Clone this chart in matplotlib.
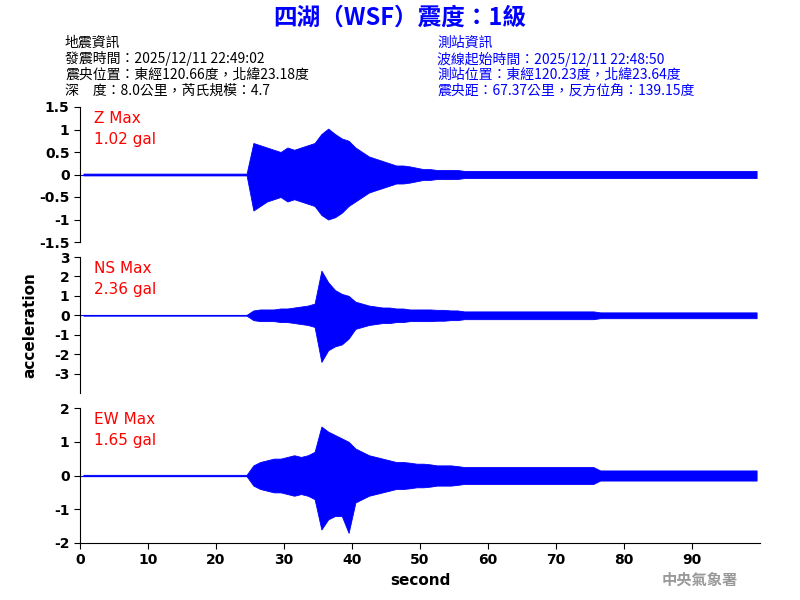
import matplotlib
matplotlib.use("Agg")
import matplotlib.pyplot as plt
import numpy as np

plt.rcParams['font.family'] = ['Noto Sans CJK TC', 'DejaVu Sans']

seconds = list(range(100))
# per-second upper / lower envelope
z_up = [0.02]*25 + [0.7,0.65,0.6,0.55,0.5,0.6,0.55,0.6,0.65,0.7,0.9,1.02,0.9,0.8,0.75,0.6,0.5,0.4,0.35,0.3,0.25,0.2,0.2,0.18,0.15,0.12,0.12,0.1,0.1,0.1,0.1] + [0.08]*44
z_lo = [-0.02]*25 + [-0.8,-0.7,-0.6,-0.55,-0.5,-0.6,-0.55,-0.6,-0.65,-0.7,-0.9,-1.0,-0.95,-0.85,-0.7,-0.6,-0.5,-0.4,-0.35,-0.3,-0.25,-0.2,-0.2,-0.18,-0.15,-0.12,-0.12,-0.1,-0.1,-0.1,-0.1] + [-0.08]*44
ns_up = [0.02]*25 + [0.25,0.3,0.3,0.3,0.35,0.35,0.4,0.45,0.5,0.6,2.3,1.7,1.3,1.1,1.0,0.7,0.6,0.5,0.45,0.4,0.4,0.35,0.35,0.3,0.3,0.3,0.3,0.28,0.28,0.25,0.25] + [0.2]*20 + [0.15]*24
ns_lo = [-0.02]*25 + [-0.25,-0.3,-0.3,-0.3,-0.35,-0.35,-0.4,-0.45,-0.5,-0.6,-2.4,-1.8,-1.6,-1.5,-1.2,-0.7,-0.6,-0.5,-0.45,-0.4,-0.4,-0.35,-0.35,-0.3,-0.3,-0.3,-0.3,-0.28,-0.28,-0.25,-0.25] + [-0.2]*20 + [-0.15]*24
ew_up = [0.02]*25 + [0.3,0.4,0.45,0.5,0.5,0.55,0.6,0.55,0.6,0.7,1.45,1.3,1.2,1.1,1.0,0.8,0.7,0.6,0.55,0.5,0.45,0.4,0.4,0.38,0.35,0.35,0.33,0.3,0.3,0.3,0.28] + [0.25]*20 + [0.15]*24
ew_lo = [-0.02]*25 + [-0.3,-0.4,-0.45,-0.5,-0.5,-0.55,-0.6,-0.55,-0.6,-0.7,-1.6,-1.3,-1.2,-1.2,-1.7,-0.8,-0.7,-0.6,-0.55,-0.5,-0.45,-0.4,-0.4,-0.38,-0.35,-0.35,-0.33,-0.3,-0.3,-0.3,-0.28] + [-0.25]*20 + [-0.15]*24

labels = ["Z Max\n1.02 gal", "NS Max\n2.36 gal", "EW Max\n1.65 gal"]
ylims = [(-1.5, 1.5), (-4, 3), (-2, 2)]
yticks = [[-1.5,-1,-0.5,0,0.5,1,1.5],[-3,-2,-1,0,1,2,3],[-2,-1,0,1,2]]
ytl = [["-1.5","-1","-0.5","0","0.5","1","1.5"],["-3","-2","-1","0","1","2","3"],["-2","-1","0","1","2"]]
envs = [(z_up, z_lo), (ns_up, ns_lo), (ew_up, ew_lo)]

fig = plt.figure(figsize=(8, 6), dpi=100)
W, H = 800, 600
boxes = [(107, 242), (257, 393), (408, 543)]
x = np.array(seconds) + 0.5
for i, ((t, b), (up, lo)) in enumerate(zip(boxes, envs)):
    ax = fig.add_axes([80/W, 1-b/H, 680/W, (b-t)/H])
    ax.fill_between(x, lo, up, color='#0000ff', lw=0.6)
    ax.plot([0, 25], [0, 0], color='#0000ff', lw=0.8)
    ax.set_xlim(0, 100)
    ax.set_ylim(*ylims[i])
    ax.set_yticks(yticks[i]); ax.set_yticklabels(ytl[i])
    for s in ['top', 'right']:
        ax.spines[s].set_visible(False)
    ax.tick_params(labelsize=10, length=4)
    for lab in ax.get_yticklabels():
        lab.set_fontweight('bold'); lab.set_family(['DejaVu Sans'])
    ax.text(0.02, 0.97, labels[i], transform=ax.transAxes, color='red', fontsize=11,
            va='top', family=['DejaVu Sans'], linespacing=1.5)
    if i < 2:
        ax.spines['bottom'].set_visible(False)
        ax.set_xticks([])
    else:
        ax.set_xticks(range(0, 100, 10))
        for lab in ax.get_xticklabels():
            lab.set_fontweight('bold'); lab.set_family(['DejaVu Sans'])
        ax.set_xlabel('second', fontsize=11, fontweight='bold', family=['DejaVu Sans'])

fig.text(30/W, 1-325/H, 'acceleration', rotation=90, va='center', ha='center',
         fontsize=11, fontweight='bold', family=['DejaVu Sans'])
fig.text(400/W, 1-18/H, '四湖（WSF）震度：1級', color='#0000ff', fontsize=17,
         fontweight='bold', ha='center', va='center')
left = ['地震資訊', '發震時間：2025/12/11 22:49:02', '震央位置：東經120.66度，北緯23.18度', '深　度：8.0公里，芮氏規模：4.7']
right = ['測站資訊', '波線起始時間：2025/12/11 22:48:50', '測站位置：東經120.23度，北緯23.64度', '震央距：67.37公里，反方位角：139.15度']
for k, (l, r) in enumerate(zip(left, right)):
    y = 1 - (43 + 16*k)/H
    fig.text(65/W, y, l, fontsize=10, va='center', color='black')
    fig.text(437/W, y, r, fontsize=10, va='center', color='#0000ff')
fig.text(700/W, 1-580/H, '中央氣象署', color='#999999', fontsize=11, ha='center', va='center', fontweight='bold')
fig.savefig('out.png', dpi=100)
